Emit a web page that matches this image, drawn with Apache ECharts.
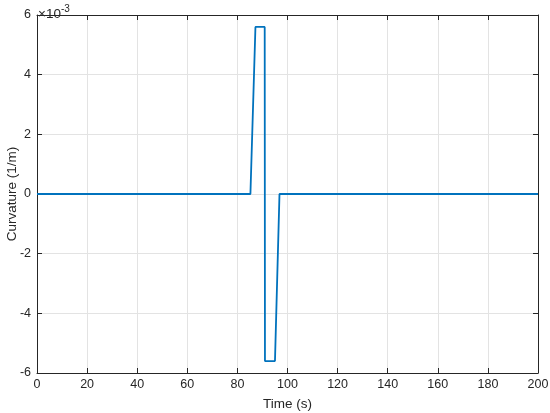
<!DOCTYPE html>
<html>
<head>
<meta charset="utf-8">
<script src="https://cdn.jsdelivr.net/npm/echarts@6/dist/echarts.min.js"></script>
<style>html,body{margin:0;padding:0;background:#fff}#c{width:550px;height:413px}</style>
</head>
<body>
<div id="c"></div>
<script>
// Time (s)
var times = [0, 85.2, 87.2, 90.9, 91.0, 95.0, 96.8, 200];
// Curvature in units of 1e-3 (1/m)
var curvature = [0, 0, 5.6, 5.6, -5.6, -5.6, 0, 0];
var xTicks = [0, 20, 40, 60, 80, 100, 120, 140, 160, 180, 200];
var yTicks = [-6, -4, -2, 0, 2, 4, 6];
var xLabel = 'Time (s)';
var yLabel = 'Curvature (1/m)';
var exponentText = '×10';
var exponentSup = '-3';

var FONT = 'Liberation Sans, Arial, Helvetica, sans-serif';
var AX = '#262626';
var data = times.map(function (t, i) { return [t, curvature[i]]; });

var chart = echarts.init(document.getElementById('c'), null, {renderer: 'canvas'});
var common = {
  axisLine: {show: true, onZero: false, lineStyle: {color: AX, width: 1}},
  axisTick: {show: true, inside: true, length: 5, lineStyle: {color: AX}}
};
chart.setOption({
  animation: false,
  grid: {left: 37, right: 12, top: 15, bottom: 40, containLabel: false, outerBoundsMode: 'none'},
  xAxis: [
    Object.assign({
      type: 'value', min: xTicks[0], max: xTicks[xTicks.length - 1], interval: 20,
      name: xLabel, nameLocation: 'middle', nameGap: 24, nameMoveOverlap: false,
      nameTextStyle: {fontFamily: FONT, fontSize: 13.5, color: AX},
      axisLabel: {fontFamily: FONT, fontSize: 12.5, color: AX, margin: 5},
      splitLine: {show: true, lineStyle: {color: '#e3e3e3', width: 1}}
    }, common),
    Object.assign({
      type: 'value', position: 'top', min: xTicks[0], max: xTicks[xTicks.length - 1], interval: 20,
      axisLabel: {show: false}, splitLine: {show: false}
    }, common)
  ],
  yAxis: [
    Object.assign({
      type: 'value', min: yTicks[0], max: yTicks[yTicks.length - 1], interval: 2,
      name: yLabel, nameLocation: 'middle', nameGap: 18, nameRotate: 90, nameMoveOverlap: false,
      nameTextStyle: {fontFamily: FONT, fontSize: 13.5, color: AX},
      axisLabel: {fontFamily: FONT, fontSize: 12.5, color: AX, margin: 6},
      splitLine: {show: true, lineStyle: {color: '#e3e3e3', width: 1}}
    }, common),
    Object.assign({
      type: 'value', position: 'right', min: yTicks[0], max: yTicks[yTicks.length - 1], interval: 2,
      axisLabel: {show: false}, splitLine: {show: false}
    }, common)
  ],
  graphic: [{
    type: 'text', left: 38, top: 1,
    style: {
      text: '{a|' + exponentText + '}{b|' + exponentSup + '}',
      rich: {
        a: {fontFamily: FONT, fontSize: 13.5, fill: AX, verticalAlign: 'bottom', lineHeight: 17, padding: [6, 0, 0, 0]},
        b: {fontFamily: FONT, fontSize: 10, fill: AX, verticalAlign: 'top', lineHeight: 10, padding: [0, 0, 0, 0]}
      }
    }
  }],
  series: [{
    type: 'line', data: data, showSymbol: false, symbol: 'none',
    lineStyle: {color: '#0072BD', width: 1.8}, xAxisIndex: 0, yAxisIndex: 0
  }]
});
</script>
</body>
</html>
